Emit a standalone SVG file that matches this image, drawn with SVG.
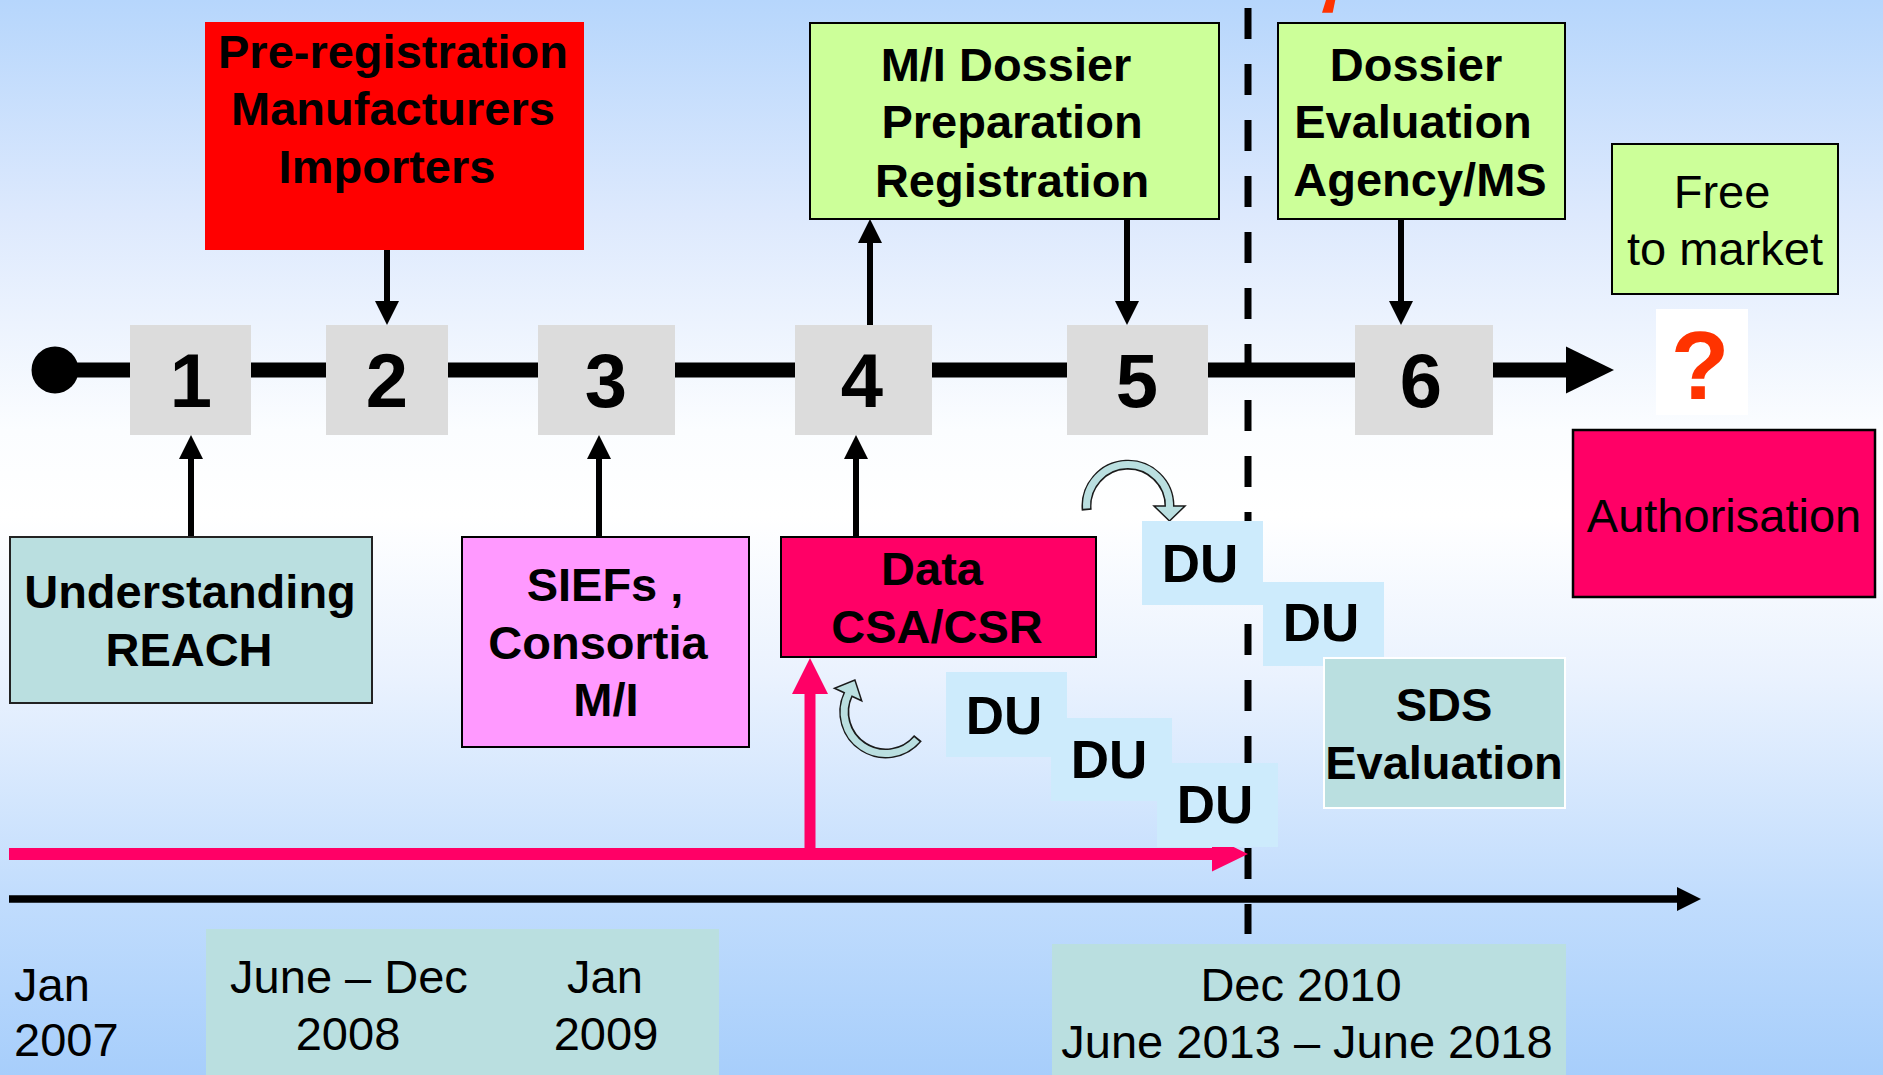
<svg xmlns="http://www.w3.org/2000/svg" width="1883" height="1075" viewBox="0 0 1883 1075">
<defs>
<linearGradient id="bg" x1="0" y1="0" x2="0" y2="1">
<stop offset="0" stop-color="#b6d6fc"/>
<stop offset="0.2" stop-color="#dde9fd"/>
<stop offset="0.4" stop-color="#fbfdff"/>
<stop offset="0.48" stop-color="#ffffff"/>
<stop offset="0.63" stop-color="#eaf2fe"/>
<stop offset="0.84" stop-color="#c0dcfd"/>
<stop offset="1" stop-color="#a7cefb"/>
</linearGradient>
<marker id="ah" viewBox="0 0 24 24" markerWidth="24" markerHeight="24" refX="4" refY="12" orient="auto" markerUnits="userSpaceOnUse">
<path d="M0,0 L24,12 L0,24 z" fill="#000"/>
</marker>
</defs>
<style>
.b{font-family:"Liberation Sans",Arial,sans-serif;font-weight:bold;font-size:47px;text-anchor:middle;fill:#000}
.r{font-family:"Liberation Sans",Arial,sans-serif;font-size:47px;text-anchor:middle;fill:#000}
.num{font-family:"Liberation Sans",Arial,sans-serif;font-weight:bold;font-size:76px;text-anchor:middle;fill:#000}
.du{font-family:"Liberation Sans",Arial,sans-serif;font-weight:bold;font-size:53px;text-anchor:middle;fill:#000}
.conn{stroke:#000;stroke-width:6;fill:none}
.gray{fill:#dcdcdc}
.green{fill:#ccff99;stroke:#000;stroke-width:2}
.teal{fill:#badfe0}
.dub{fill:#cdebfc}
.arcd{fill:none;stroke:#1a1a1a;stroke-width:10}
.arct{fill:none;stroke:#badfe0;stroke-width:7}
</style>
<rect x="0" y="0" width="1883" height="1075" fill="url(#bg)"/>

<g id="dates">
<rect x="206" y="929" width="513" height="146" class="teal"/>
<rect x="1052" y="944" width="514" height="131" class="teal"/>
<text x="14" y="1001" class="r" style="text-anchor:start">Jan</text>
<text x="14" y="1056" class="r" style="text-anchor:start">2007</text>
<text x="349" y="993" class="r">June – Dec</text>
<text x="348" y="1050" class="r">2008</text>
<text x="605" y="993" class="r">Jan</text>
<text x="606" y="1050" class="r">2009</text>
<text x="1301" y="1001" class="r">Dec 2010</text>
<text x="1307" y="1058" class="r">June 2013 – June 2018</text>
</g>

<g id="connectors">
<line x1="1248" y1="8" x2="1248" y2="934" stroke="#000" stroke-width="7" stroke-dasharray="31 25"/>
<line x1="55" y1="370" x2="1570" y2="370" stroke="#000" stroke-width="15"/>
<polygon points="1566,346.5 1614,370 1566,393.5" fill="#000"/>
<circle cx="55" cy="370" r="23.5" fill="#000"/>
<path class="conn" d="M191 536 L191 455" marker-end="url(#ah)"/>
<path class="conn" d="M387 250 L387 305" marker-end="url(#ah)"/>
<path class="conn" d="M599 536 L599 455" marker-end="url(#ah)"/>
<path class="conn" d="M870 325 L870 239" marker-end="url(#ah)"/>
<path class="conn" d="M1127 219 L1127 305" marker-end="url(#ah)"/>
<path class="conn" d="M856 536 L856 455" marker-end="url(#ah)"/>
<path class="conn" d="M1401 219 L1401 305" marker-end="url(#ah)"/>
<line x1="9" y1="854" x2="1216" y2="854" stroke="#ff0066" stroke-width="12"/>
<polygon points="1212,836.5 1248,854 1212,871.5" fill="#ff0066"/>
<line x1="810" y1="854" x2="810" y2="690" stroke="#ff0066" stroke-width="11"/>
<polygon points="792,694 810,658 828,694" fill="#ff0066"/>
<line x1="9" y1="899" x2="1680" y2="899" stroke="#000" stroke-width="7.5"/>
<polygon points="1677,887 1701,899 1677,911" fill="#000"/>
<path class="arcd" d="M1086.7 510.3 A41.5 41.5 0 1 1 1169.5 506"/>
<polygon points="1154,506 1185,506 1169.5,521" fill="#badfe0" stroke="#1a1a1a" stroke-width="1.5"/>
<path class="arct" d="M1086.6 508.5 A41.5 41.5 0 1 1 1169.5 507.5"/>
<path class="arcd" d="M917.95 738.1 A41.5 41.5 0 0 1 848.1 694.5"/>
<polygon points="834.5,688.2 861.7,700.8 854.9,680" fill="#badfe0" stroke="#1a1a1a" stroke-width="1.5"/>
<path class="arct" d="M916.8 739.5 A41.5 41.5 0 0 1 848.7 693.2"/>
</g>

<polygon id="mark" points="1322,12.7 1332.7,12.7 1335.3,0 1326,0" fill="#ff3300"/>

<g id="n1"><rect x="130" y="325" width="121" height="110" class="gray"/><text x="191" y="407" class="num">1</text></g>
<g id="n2"><rect x="326" y="325" width="122" height="110" class="gray"/><text x="387" y="407" class="num">2</text></g>
<g id="n3"><rect x="538" y="325" width="137" height="110" class="gray"/><text x="606" y="407" class="num">3</text></g>
<g id="n4"><rect x="795" y="325" width="137" height="110" class="gray"/><text x="862" y="407" class="num">4</text></g>
<g id="n5"><rect x="1067" y="325" width="141" height="110" class="gray"/><text x="1137" y="407" class="num">5</text></g>
<g id="n6"><rect x="1355" y="325" width="138" height="110" class="gray"/><text x="1421" y="407" class="num">6</text></g>

<g id="preregistration">
<rect x="205" y="22" width="379" height="228" fill="#ff0000"/>
<text x="393" y="68" class="b">Pre-registration</text>
<text x="393" y="125" class="b">Manufacturers</text>
<text x="387" y="183" class="b">Importers</text>
</g>

<g id="dossier-prep">
<rect x="810" y="23" width="409" height="196" class="green"/>
<text x="1006" y="81" class="b">M/I Dossier</text>
<text x="1012" y="138" class="b">Preparation</text>
<text x="1012" y="197" class="b">Registration</text>
</g>

<g id="dossier-eval">
<rect x="1278" y="23" width="287" height="196" class="green"/>
<text x="1416" y="81" class="b">Dossier</text>
<text x="1413" y="138" class="b">Evaluation</text>
<text x="1420" y="196" class="b">Agency/MS</text>
</g>

<g id="free">
<rect x="1612" y="144" width="226" height="150" class="green"/>
<text x="1722" y="208" class="r">Free</text>
<text x="1725" y="265" class="r">to market</text>
</g>

<g id="question">
<rect x="1656" y="309" width="92" height="106" fill="#ffffff"/>
<text x="1700" y="399" style="font-family:'Liberation Sans',Arial,sans-serif;font-weight:bold;font-size:96px;text-anchor:middle;fill:#ff3300">?</text>
</g>

<g id="authorisation">
<rect x="1573" y="430" width="302" height="167" fill="#ff0066" stroke="#000" stroke-width="2.5"/>
<text x="1724" y="532" class="r">Authorisation</text>
</g>

<g id="understanding">
<rect x="10" y="537" width="362" height="166" class="teal" stroke="#222" stroke-width="2"/>
<text x="190" y="608" class="b">Understanding</text>
<text x="189" y="666" class="b">REACH</text>
</g>

<g id="siefs">
<rect x="462" y="537" width="287" height="210" fill="#ff99ff" stroke="#000" stroke-width="2"/>
<text x="605" y="601" class="b">SIEFs ,</text>
<text x="598" y="659" class="b">Consortia</text>
<text x="606" y="716" class="b">M/I</text>
</g>

<g id="data">
<rect x="781" y="537" width="315" height="120" fill="#ff0066" stroke="#000" stroke-width="2"/>
<text x="932" y="585" class="b">Data</text>
<text x="937" y="643" class="b">CSA/CSR</text>
</g>

<g id="du-1"><rect x="1142" y="521" width="121" height="84" class="dub"/><text x="1200" y="582" class="du">DU</text></g>
<g id="du-2"><rect x="1263" y="582" width="121" height="84" class="dub"/><text x="1321" y="641" class="du">DU</text></g>
<g id="du-a"><rect x="946" y="672" width="121" height="85" class="dub"/><text x="1004" y="734" class="du">DU</text></g>
<g id="du-b"><rect x="1051" y="718" width="121" height="83" class="dub"/><text x="1109" y="778" class="du">DU</text></g>
<g id="du-c"><rect x="1157" y="763" width="121" height="84" class="dub"/><text x="1215" y="823" class="du">DU</text></g>

<g id="sds">
<rect x="1324" y="658" width="241" height="150" class="teal" stroke="#ffffff" stroke-width="2"/>
<text x="1444" y="721" class="b">SDS</text>
<text x="1444" y="779" class="b">Evaluation</text>
</g>
</svg>
